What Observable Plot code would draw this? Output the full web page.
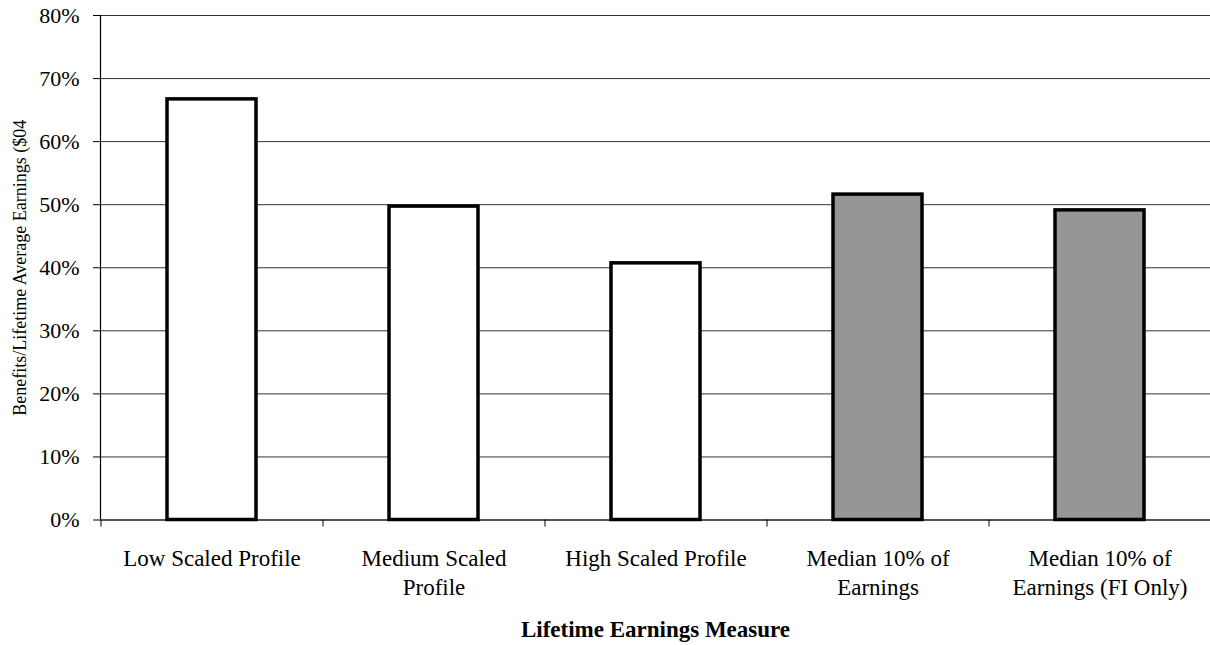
<!DOCTYPE html>
<html><head><meta charset="utf-8">
<script src="https://cdn.jsdelivr.net/npm/d3@7"></script>
<script src="https://cdn.jsdelivr.net/npm/@observablehq/plot@0.6"></script>
<style>
body{margin:0;background:#fff}
svg{display:block}
</style>
</head><body><div id="chart"></div>
<script>
const categories = ["Low Scaled Profile","Medium Scaled Profile","High Scaled Profile","Median 10% of Earnings","Median 10% of Earnings (FI Only)"];
const tickLabels = ["Low Scaled Profile","Medium Scaled\nProfile","High Scaled Profile","Median 10% of\nEarnings","Median 10% of\nEarnings (FI Only)"];
const values = [0.667, 0.497, 0.407, 0.516, 0.491];
const groups = ["Scaled","Scaled","Scaled","Median","Median"];
const yTicks = [0, 0.1, 0.2, 0.3, 0.4, 0.5, 0.6, 0.7, 0.8];
const yLabel = "Benefits/Lifetime Average Earnings ($04";
const xLabel = "Lifetime Earnings Measure";

const data = categories.map((c, i) => ({cat: c, value: values[i], group: groups[i]}));

const W = 1210, H = 645, ML = 100, MR = 0, MT = 15, MB = 125.5;
const step = (W - ML - MR) / categories.length;

const chart = Plot.plot({
  width: W, height: H,
  marginLeft: ML, marginRight: MR, marginTop: MT, marginBottom: MB,
  style: {fontFamily: "'Liberation Serif', 'Times New Roman', serif", background: "#fff", color: "#000"},
  x: {domain: categories, paddingInner: 0.6, paddingOuter: 0.3, axis: null},
  y: {domain: [0, 0.8], axis: null},
  color: {domain: ["Scaled","Median"], range: ["#ffffff", "#969696"]},
  marks: [
    Plot.ruleY(yTicks, {stroke: "#333", strokeWidth: 1}),
    Plot.frame({anchor: "left", stroke: "#000", strokeWidth: 1.2}),
    Plot.axisY({ticks: yTicks, tickSize: 7, tickPadding: 14, tickFormat: d3.format(".0%"), fontSize: 22, label: null}),
    Plot.ruleY([0], {stroke: "#555", strokeWidth: 2}),
    Plot.ruleX(categories, {x: d => d, y1: 0, y2: 0, insetBottom: -7, dx: -step / 2, stroke: "#000", strokeWidth: 1}),
    Plot.barY(data, {x: "cat", y: "value", fill: "group", stroke: "#000", strokeWidth: 3.5}),
    Plot.axisX({tickSize: 0, tickPadding: 25, fontSize: 23, lineHeight: 1.27, tickFormat: d => tickLabels[categories.indexOf(d)], label: null}),
    Plot.text([yLabel], {text: d => d, frameAnchor: "left", textAnchor: "middle", lineAnchor: "middle", rotate: -90, dx: -80, fontSize: 18, fill: "#000"}),
    Plot.text([xLabel], {text: d => d, frameAnchor: "bottom", textAnchor: "middle", lineAnchor: "middle", dy: 110, fontSize: 23, fontWeight: "bold", fill: "#000"})
  ]
});
document.getElementById("chart").appendChild(chart);
</script>
</body></html>
